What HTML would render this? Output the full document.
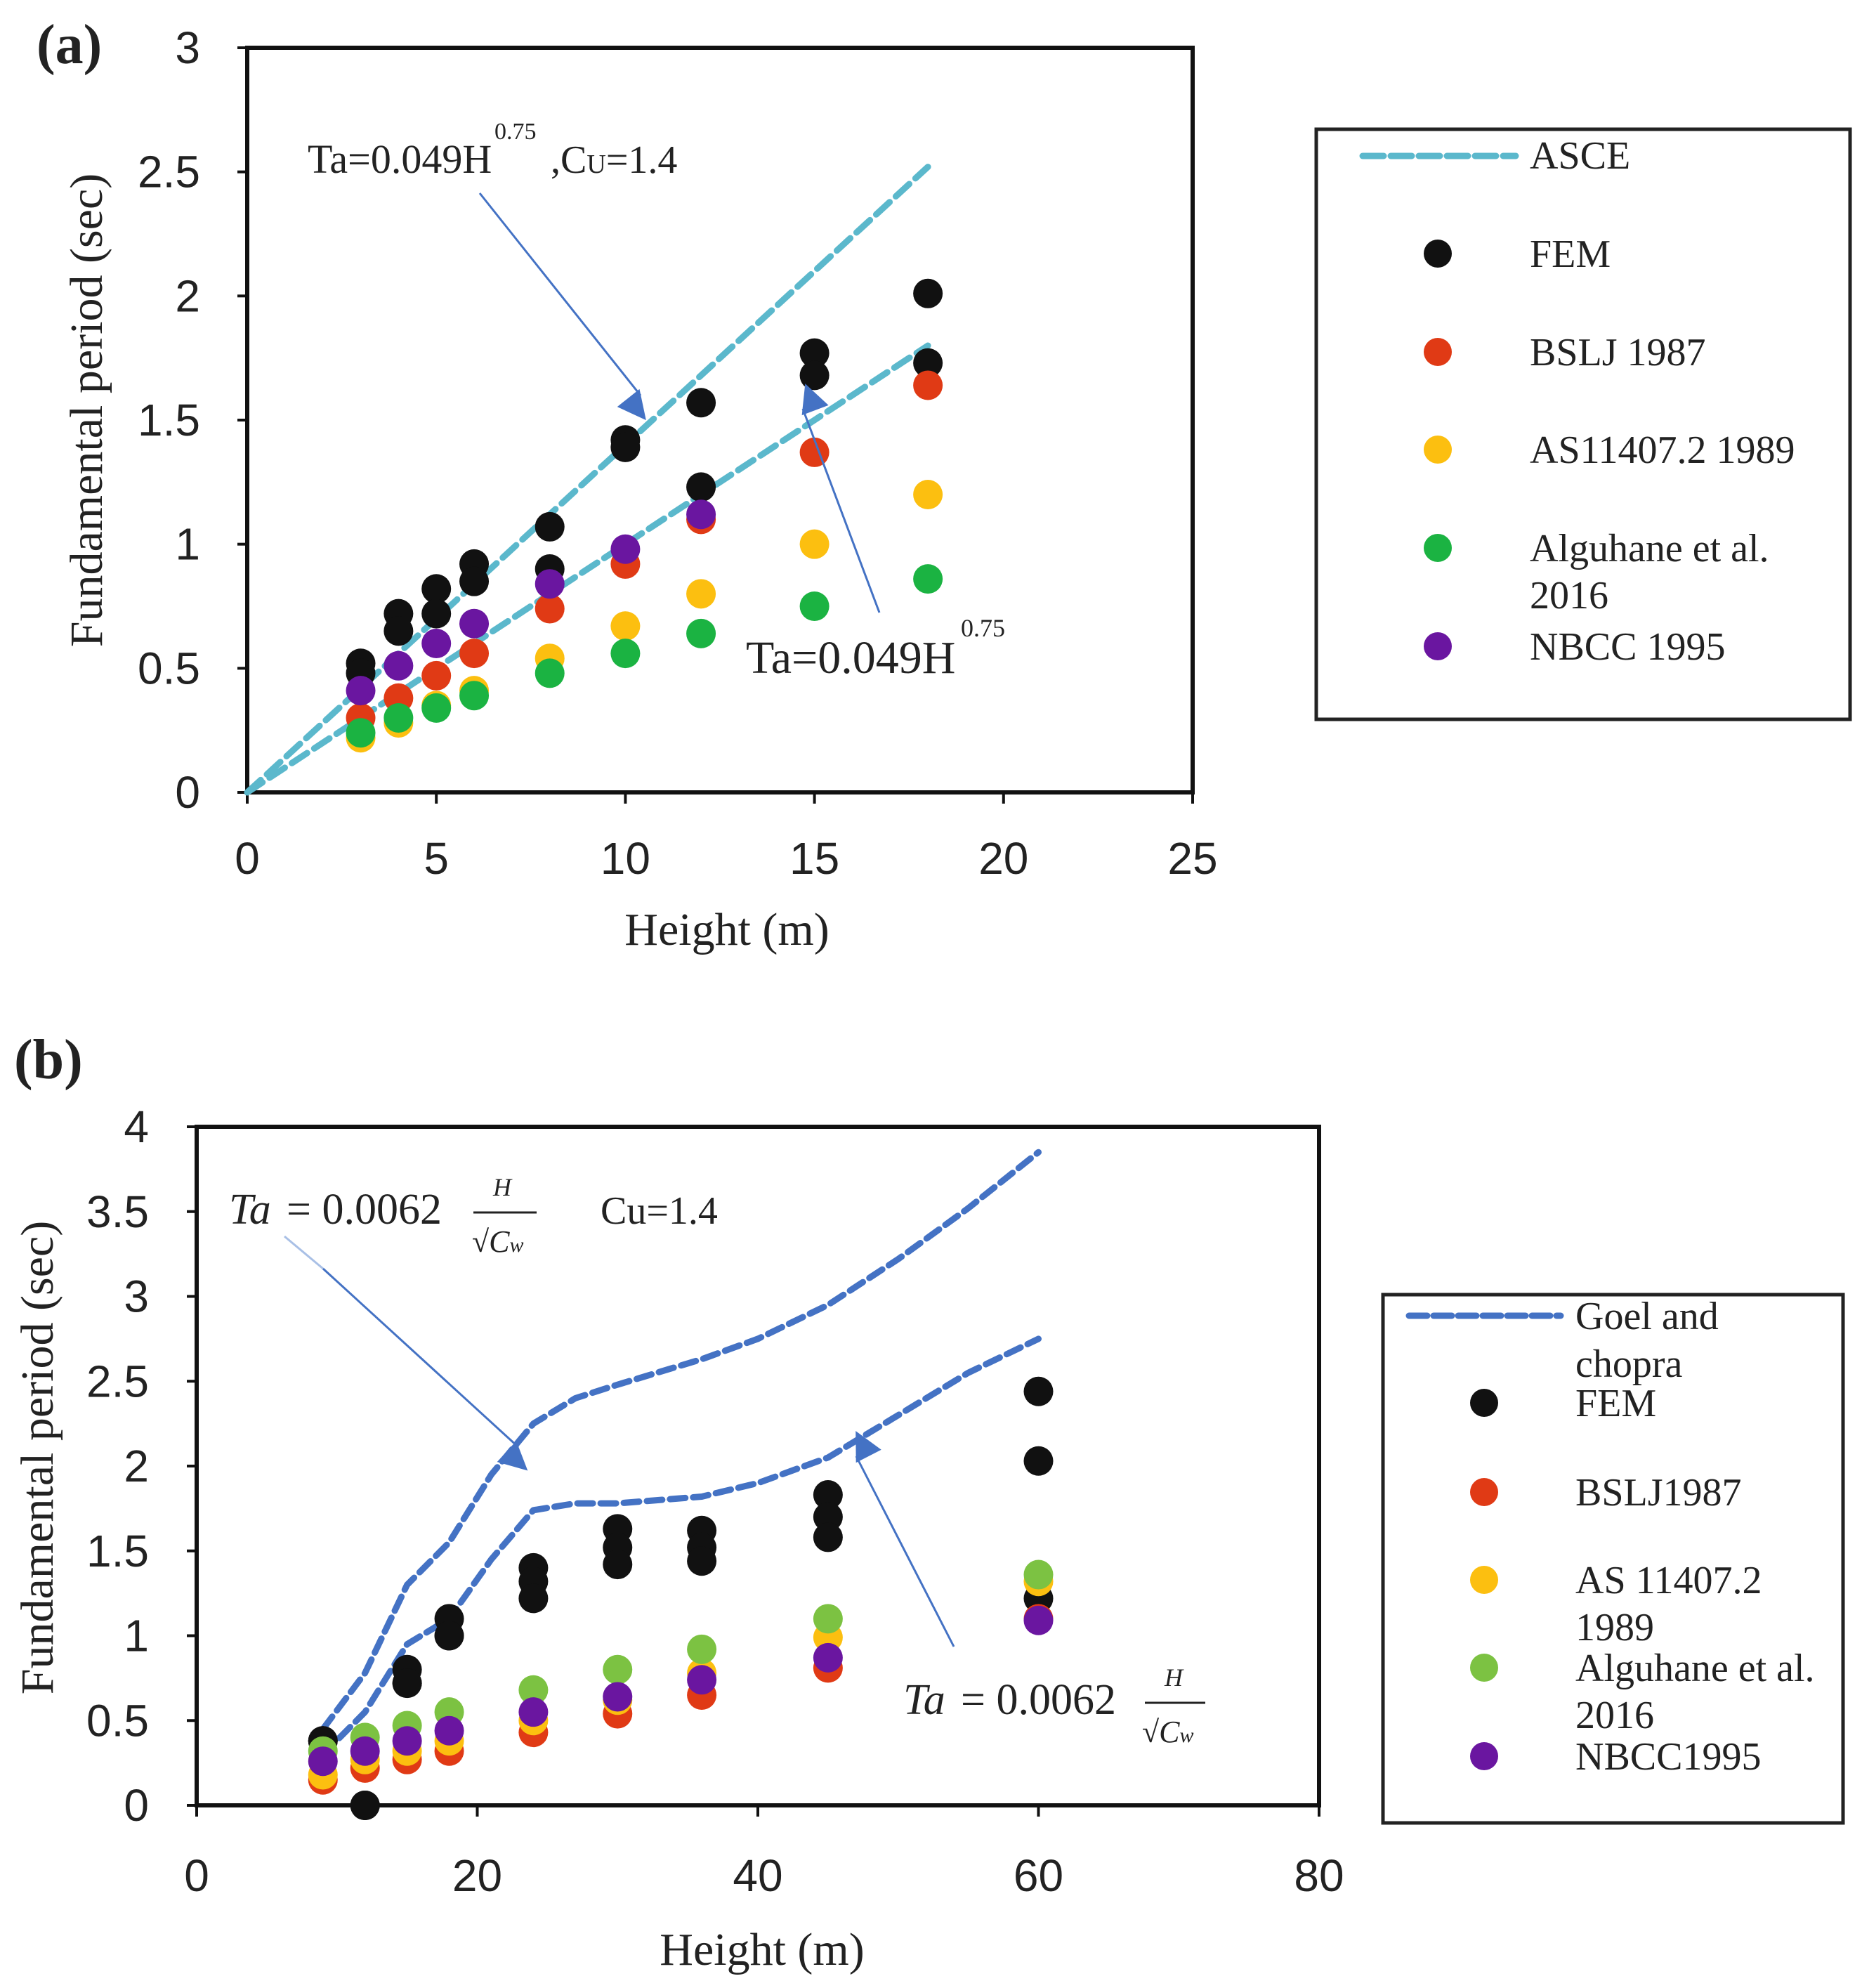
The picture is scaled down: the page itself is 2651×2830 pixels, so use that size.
<!DOCTYPE html>
<html><head><meta charset="utf-8">
<style>
html,body{margin:0;padding:0;background:#fff;}
svg{display:block;}
text{font-family:"Liberation Serif",serif;fill:#222;}
.tick{font-family:"Liberation Sans",sans-serif;font-size:64px;fill:#222;}
</style></head>
<body>
<svg id="fig" width="2651" height="2830" viewBox="0 0 2651 2830" xmlns="http://www.w3.org/2000/svg">
<defs>
<marker id="ah" viewBox="0 0 10 10" refX="9" refY="5" markerWidth="9" markerHeight="9" orient="auto" markerUnits="userSpaceOnUse" style="overflow:visible">
<path d="M0,0 L10,5 L0,10 z" fill="#4472c4" transform="scale(4.5) translate(-5,-5) translate(5,5)"/>
</marker>
</defs>
<g id="chartA"></g>
<g id="chartB"></g>

<text x="52" y="90" font-size="80" font-weight="bold">(a)</text>
<text x="20" y="1535" font-size="80" font-weight="bold">(b)</text>

<g>
<text x="438" y="246" font-size="58">Ta=0.049H</text>
<text x="704" y="198" font-size="34">0.75</text>
<text x="784" y="246" font-size="56">,C<tspan font-size="38">U</tspan>=1.4</text>
<line x1="683" y1="275" x2="912" y2="563" stroke="#4472c4" stroke-width="3" marker-end="url(#ah)"/>
</g>
<g>
<text x="1062" y="958" font-size="66">Ta=0.049H</text>
<text x="1368" y="906" font-size="36">0.75</text>
<line x1="1252" y1="872" x2="1143" y2="582" stroke="#4472c4" stroke-width="3" marker-end="url(#ah)"/>
</g>

<g>
<text x="326" y="1742" font-size="62" font-style="italic">Ta</text>
<text x="408" y="1742" font-size="62">= 0.0062</text>
<text x="702" y="1702" font-size="36" font-style="italic">H</text>
<line x1="674" y1="1726" x2="764" y2="1726" stroke="#222" stroke-width="3"/>
<text x="672" y="1782" font-size="44">√<tspan font-style="italic">C<tspan font-size="30">w</tspan></tspan></text>
<text x="855" y="1742" font-size="56">Cu=1.4</text>
<line x1="405" y1="1760" x2="460" y2="1806" stroke="#a9c0e6" stroke-width="3"/>
<line x1="460" y1="1806" x2="738" y2="2060" stroke="#4472c4" stroke-width="3" marker-end="url(#ah)"/>
</g>
<g>
<text x="1286" y="2440" font-size="62" font-style="italic">Ta</text>
<text x="1368" y="2440" font-size="62">= 0.0062</text>
<text x="1658" y="2400" font-size="36" font-style="italic">H</text>
<line x1="1630" y1="2424" x2="1716" y2="2424" stroke="#222" stroke-width="3"/>
<text x="1626" y="2480" font-size="44">√<tspan font-style="italic">C<tspan font-size="30">w</tspan></tspan></text>
<line x1="1358" y1="2344" x2="1219" y2="2073" stroke="#4472c4" stroke-width="3" marker-end="url(#ah)"/>
</g>

<g>
<rect x="1874" y="184" width="760" height="840" fill="none" stroke="#222" stroke-width="5"/>
<g><line x1="1940" y1="222" x2="2158" y2="222" stroke="#5bb8cc" stroke-width="9" stroke-dasharray="30,10" stroke-linecap="round"/><text x="2178" y="240" font-size="56">ASCE</text></g>
<g><circle cx="2047" cy="361" r="20" fill="#111"/><text x="2178" y="380" font-size="56">FEM</text></g>
<g><circle cx="2047" cy="501" r="20" fill="#e03a15"/><text x="2178" y="520" font-size="56">BSLJ 1987</text></g>
<g><circle cx="2047" cy="640" r="20" fill="#fcbf10"/><text x="2178" y="659" font-size="56">AS11407.2 1989</text></g>
<g><circle cx="2047" cy="780" r="20" fill="#1bb342"/><text x="2178" y="799" font-size="56">Alguhane et al.</text><text x="2178" y="866" font-size="56">2016</text></g>
<g><circle cx="2047" cy="920" r="20" fill="#6a16a0"/><text x="2178" y="939" font-size="56">NBCC 1995</text></g>
</g>

<g>
<rect x="1969" y="1843" width="655" height="752" fill="none" stroke="#222" stroke-width="5"/>
<g><line x1="2006" y1="1873" x2="2222" y2="1873" stroke="#4472c4" stroke-width="9" stroke-dasharray="26,9" stroke-linecap="round"/><text x="2243" y="1892" font-size="56">Goel and</text><text x="2243" y="1960" font-size="56">chopra</text></g>
<g><circle cx="2113" cy="1997" r="20" fill="#111"/><text x="2243" y="2016" font-size="56">FEM</text></g>
<g><circle cx="2113" cy="2124" r="20" fill="#e03a15"/><text x="2243" y="2143" font-size="56">BSLJ1987</text></g>
<g><circle cx="2113" cy="2249" r="20" fill="#fcbf10"/><text x="2243" y="2268" font-size="56">AS 11407.2</text><text x="2243" y="2335" font-size="56">1989</text></g>
<g><circle cx="2113" cy="2374" r="20" fill="#7cc242"/><text x="2243" y="2393" font-size="56">Alguhane et al.</text><text x="2243" y="2460" font-size="56">2016</text></g>
<g><circle cx="2113" cy="2500" r="20" fill="#6a16a0"/><text x="2243" y="2519" font-size="56">NBCC1995</text></g>
</g>
</svg>
<script>
// ---- Chart A data ----
const aX = [3,4,5,6,8,10,12,15,18];
const aFEM1 = [0.52,0.72,0.82,0.92,1.07,1.42,1.57,1.77,2.01];
const aFEM2 = [0.48,0.65,0.72,0.85,0.90,1.39,1.23,1.68,1.73];
const aBSLJ = [0.30,0.38,0.47,0.56,0.74,0.92,1.10,1.37,1.64];
const aAS = [0.22,0.28,0.35,0.41,0.54,0.67,0.80,1.00,1.20];
const aAlg = [0.24,0.30,0.34,0.39,0.48,0.56,0.64,0.75,0.86];
const aNBCCx = [3,4,5,6,8,10,12];
const aNBCC = [0.41,0.51,0.60,0.68,0.84,0.98,1.12];
const aLineX = [0,18];
const aUpper = [0,2.52];
const aLower = [0,1.80];
const aXTicks = [0,5,10,15,20,25];
const aYTicks = [0,0.5,1,1.5,2,2.5,3];
const aYLabels = ["0","0.5","1","1.5","2","2.5","3"];
// ---- Chart B data ----
const bX = [9,12,15,18,24,30,36,45,60];
const bFEM1 = [0.38,0.00,0.80,1.10,1.40,1.63,1.62,1.83,2.44];
const bFEM2 = [0.38,0.00,0.72,1.00,1.32,1.52,1.52,1.70,2.03];
const bFEM3 = [0.38,0.00,0.72,1.00,1.22,1.42,1.44,1.58,1.22];
const bBSLJ = [0.15,0.22,0.27,0.32,0.43,0.54,0.65,0.81,1.10];
const bAS = [0.18,0.27,0.32,0.38,0.50,0.62,0.78,0.99,1.32];
const bAlg = [0.32,0.40,0.47,0.55,0.68,0.80,0.92,1.10,1.36];
const bNBCC = [0.26,0.32,0.38,0.44,0.55,0.64,0.74,0.87,1.09];
const bUpX = [9,12,15,18,21,24,27,30,36,40,45,50,55,60];
const bUp = [0.45,0.78,1.30,1.55,1.95,2.25,2.40,2.48,2.63,2.75,2.95,3.22,3.52,3.85];
const bLoX = [9,12,15,18,21,24,27,30,36,40,45,50,55,60];
const bLo = [0.30,0.55,0.95,1.10,1.45,1.74,1.78,1.78,1.82,1.90,2.05,2.30,2.55,2.75];
const bXTicks = [0,20,40,60,80];
const bYTicks = [0,0.5,1,1.5,2,2.5,3,3.5,4];
const bYLabels = ["0","0.5","1","1.5","2","2.5","3","3.5","4"];

const NS = "http://www.w3.org/2000/svg";
function mk(parent, tag, attrs){ const e=document.createElementNS(NS,tag); for(const k in attrs) e.setAttribute(k,attrs[k]); parent.appendChild(e); return e; }

function drawChart(g, cfg){
  const sx = v => cfg.x0 + (v - cfg.xmin)/(cfg.xmax-cfg.xmin)*(cfg.x1-cfg.x0);
  const sy = v => cfg.y0 - (v - cfg.ymin)/(cfg.ymax-cfg.ymin)*(cfg.y0-cfg.y1);
  const frame = mk(g,'rect',{x:cfg.x0,y:cfg.y1,width:cfg.x1-cfg.x0,height:cfg.y0-cfg.y1,fill:'none',stroke:'#111','stroke-width':6});
  
  
  cfg.yt.forEach((t,i)=>{
    const tk = mk(g,'line',{x1:cfg.x0-14,x2:cfg.x0,y1:sy(t),y2:sy(t),stroke:'#111','stroke-width':4});
    
    
    const lb = mk(g,'text',{x:cfg.ylx,y:sy(t)+22,'text-anchor':'end',class:'tick'});
    lb.textContent = cfg.yl[i];
    
    
  });
  cfg.xt.forEach(t=>{
    const tk = mk(g,'line',{x1:sx(t),x2:sx(t),y1:cfg.y0,y2:cfg.y0+16,stroke:'#111','stroke-width':4});
    
    
    const lb = mk(g,'text',{x:sx(t),y:cfg.xly,'text-anchor':'middle',class:'tick'});
    lb.textContent = String(t);
    
    
  });
  const xt = mk(g,'text',{x:cfg.xtx,y:cfg.xty,'text-anchor':'middle','font-size':66});
  xt.textContent='Height (m)';
  
  
  const yt = mk(g,'text',{x:0,y:0,'text-anchor':'middle','font-size':66,transform:`translate(${cfg.ytx},${cfg.yty}) rotate(-90)`});
  yt.textContent='Fundamental period (sec)';
  
  
  cfg.lines.forEach(L=>{
    const d = L.x.map((v,i)=>(i?'L':'M')+sx(v).toFixed(1)+','+sy(L.y[i]).toFixed(1)).join(' ');
    const p = mk(g,'path',{d:d,fill:'none',stroke:L.c,'stroke-width':9,'stroke-dasharray':L.dash,'stroke-linecap':'round','stroke-linejoin':'round'});
    
    
  });
  cfg.series.forEach(S=>{
    S.y.forEach((v,i)=>{
      const c = mk(g,'circle',{cx:sx(S.x[i]),cy:sy(v),r:21,fill:S.c});
      
      
    });
  });
}

drawChart(document.getElementById('chartA'),{
  x0:352,x1:1698,y0:1128,y1:68,xmin:0,xmax:25,ymin:0,ymax:3,
  xt:aXTicks,yt:aYTicks,yl:aYLabels,ylx:285,xly:1244,xtx:1035,xty:1345,ytx:145,yty:584,
  lines:[{x:aLineX,y:aUpper,c:'#5bb8cc',dash:'26,12',name:'asce-line-upper'},{x:aLineX,y:aLower,c:'#5bb8cc',dash:'26,12',name:'asce-line-lower'}],
  series:[
    {x:aX,y:aFEM1,c:'#111',name:'fem-point'},{x:aX,y:aFEM2,c:'#111',name:'fem-point'},
    {x:aX,y:aBSLJ,c:'#e03a15',name:'bslj-point'},
    {x:aX,y:aAS,c:'#fcbf10',name:'as-point'},
    {x:aX,y:aAlg,c:'#1bb342',name:'alguhane-point'},
    {x:aNBCCx,y:aNBCC,c:'#6a16a0',name:'nbcc-point'}
  ]
});
drawChart(document.getElementById('chartB'),{
  x0:280,x1:1878,y0:2570,y1:1604,xmin:0,xmax:80,ymin:0,ymax:4,
  xt:bXTicks,yt:bYTicks,yl:bYLabels,ylx:212,xly:2692,xtx:1085,xty:2797,ytx:75,yty:2075,
  lines:[{x:bUpX,y:bUp,c:'#4472c4',dash:'22,11',name:'goel-chopra-upper'},{x:bLoX,y:bLo,c:'#4472c4',dash:'22,11',name:'goel-chopra-lower'}],
  series:[
    {x:bX,y:bFEM1,c:'#111',name:'fem-point'},{x:bX,y:bFEM2,c:'#111',name:'fem-point'},{x:bX,y:bFEM3,c:'#111',name:'fem-point'},
    {x:bX,y:bBSLJ,c:'#e03a15',name:'bslj-point'},
    {x:bX,y:bAS,c:'#fcbf10',name:'as-point'},
    {x:bX,y:bAlg,c:'#7cc242',name:'alguhane-point'},
    {x:bX,y:bNBCC,c:'#6a16a0',name:'nbcc-point'}
  ]
});
</script>
</body></html>
